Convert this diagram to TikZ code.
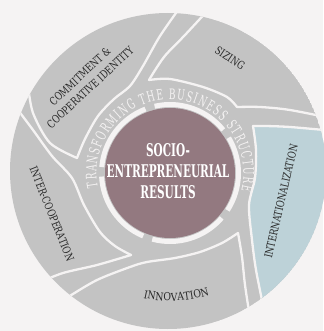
\documentclass[tikz,border=0pt]{standalone}
\usepackage{fontspec}
\usetikzlibrary{decorations.text}
\newfontfamily\labfont{DejaVu Serif}[FakeStretch=0.78]
\newfontfamily\innofont{DejaVu Serif}[FakeStretch=0.85]
\newfontfamily\ringfont{DejaVu Serif}[FakeStretch=0.62]
\newfontfamily\ctrfont{DejaVu Serif}[FakeStretch=0.6]
\definecolor{bgc}{RGB}{245,243,243}
\definecolor{grayc}{RGB}{195,195,195}
\definecolor{bluec}{RGB}{189,210,216}
\definecolor{maroonc}{RGB}{147,121,128}
\definecolor{txt}{RGB}{40,40,40}
\begin{document}
\begin{tikzpicture}[x=1pt,y=1pt,
  wline/.style={draw=bgc,line width=2.3pt,line cap=round,line join=round},
  lab/.style={text=txt,font=\labfont\fontsize{11}{15}\selectfont,inner sep=0pt,align=center}]
\useasboundingbox (0,0) rectangle (323,-331);
\fill[bgc] (0,0) rectangle (323,-331);
\coordinate (O) at (168,-171);
\coordinate (M) at (170,-173);
\begin{scope}
\clip (O) circle (158);
\fill[grayc] (O) circle (158);
% blue petal
\fill[bluec] plot[smooth] coordinates {(263,-305) (256,-270) (252,-240) (249,-205) (255,-178) (256,-150) (253,-126)}
  -- plot[smooth] coordinates {(253,-126) (265,-126) (290,-127) (340,-131)} -- (340,-340) -- (263,-340) -- cycle;
% commitment
\draw[wline] plot[smooth] coordinates {(28,-85) (33,-113) (50,-143) (77,-158)};
\draw[wline] plot[smooth] coordinates {(77,-158) (85,-139) (98,-116) (114,-99) (130,-86) (143,-66) (160,-36) (181,-6)};
% sizing
\draw[wline] plot[smooth] coordinates {(210,-8) (185,-35) (164,-57) (149,-80)};
\draw[wline] plot[smooth] coordinates {(149,-80) (170,-79) (203,-87) (227,-97) (237,-107)};
\draw[wline] plot[smooth] coordinates {(237,-107) (260,-107) (290,-110) (335,-119)};
% internationalization
\draw[wline] plot[smooth] coordinates {(335,-131) (290,-127) (265,-126) (253,-126)};
\draw[wline] plot[smooth] coordinates {(253,-126) (256,-150) (255,-178) (249,-205) (252,-240) (256,-270) (263,-305)};
% innovation
\draw[wline] plot[smooth] coordinates {(250,-318) (245,-285) (242,-257) (238,-233)};
\draw[wline] plot[smooth] coordinates {(238,-233) (222,-243) (200,-252) (175,-258) (147,-262) (130,-267) (97,-280) (68,-297) (58,-303)};
% inter-cooperation
\draw[wline] plot[smooth] coordinates {(12,-102) (33,-130) (52,-156) (72,-178) (84,-205) (100,-232) (115,-246) (131,-255)};
\draw[wline] plot[smooth] coordinates {(131,-255) (97,-265) (63,-273) (38,-283)};
\end{scope}
% white band around the centre
\foreach \a in {35,107,179,251,323}{
  \draw[bgc,line width=5pt] ([shift={(\a-4:68.5)}]M) arc[start angle=\a-4, end angle=\a-68, radius=68.5];}
\fill[maroonc] (M) circle (65);
% ring text
\path[decorate,decoration={text along path,text color=bgc,
  text={|\ringfont\fontsize{14.5}{14.5}\selectfont|TRANSFORMING THE BUSINESS STRUCTURE},
  text align={fit to path}}]
  ([shift={(191:73.5)}]M) arc[start angle=191, end angle=-14, radius=73.5];
\path[decorate,decoration={text along path,text color=txt,
  text={|\innofont\fontsize{11}{12}\selectfont|INNOVATION},
  text align=center}]
  ([shift={(240:128)}]M) arc[start angle=240, end angle=306, radius=128];
\node[text=white,font=\ctrfont\bfseries\fontsize{17.5}{21}\selectfont,align=center,inner sep=0pt] (res) at (168,-171) {SOCIO-\\ENTREPRENEURIAL\\RESULTS};
\node[lab,rotate=43] (com) at (85,-82) {COMMITMENT \&\\COOPERATIVE IDENTITY};
\node[lab,rotate=-34] (siz) at (230,-58) {SIZING};
\node[lab,rotate=77] (int) at (281,-201) {INTERNATIONALIZATION};
\node[lab,rotate=-68] (coo) at (52,-214) {INTER-COOPERATION};
\end{tikzpicture}
\end{document}
